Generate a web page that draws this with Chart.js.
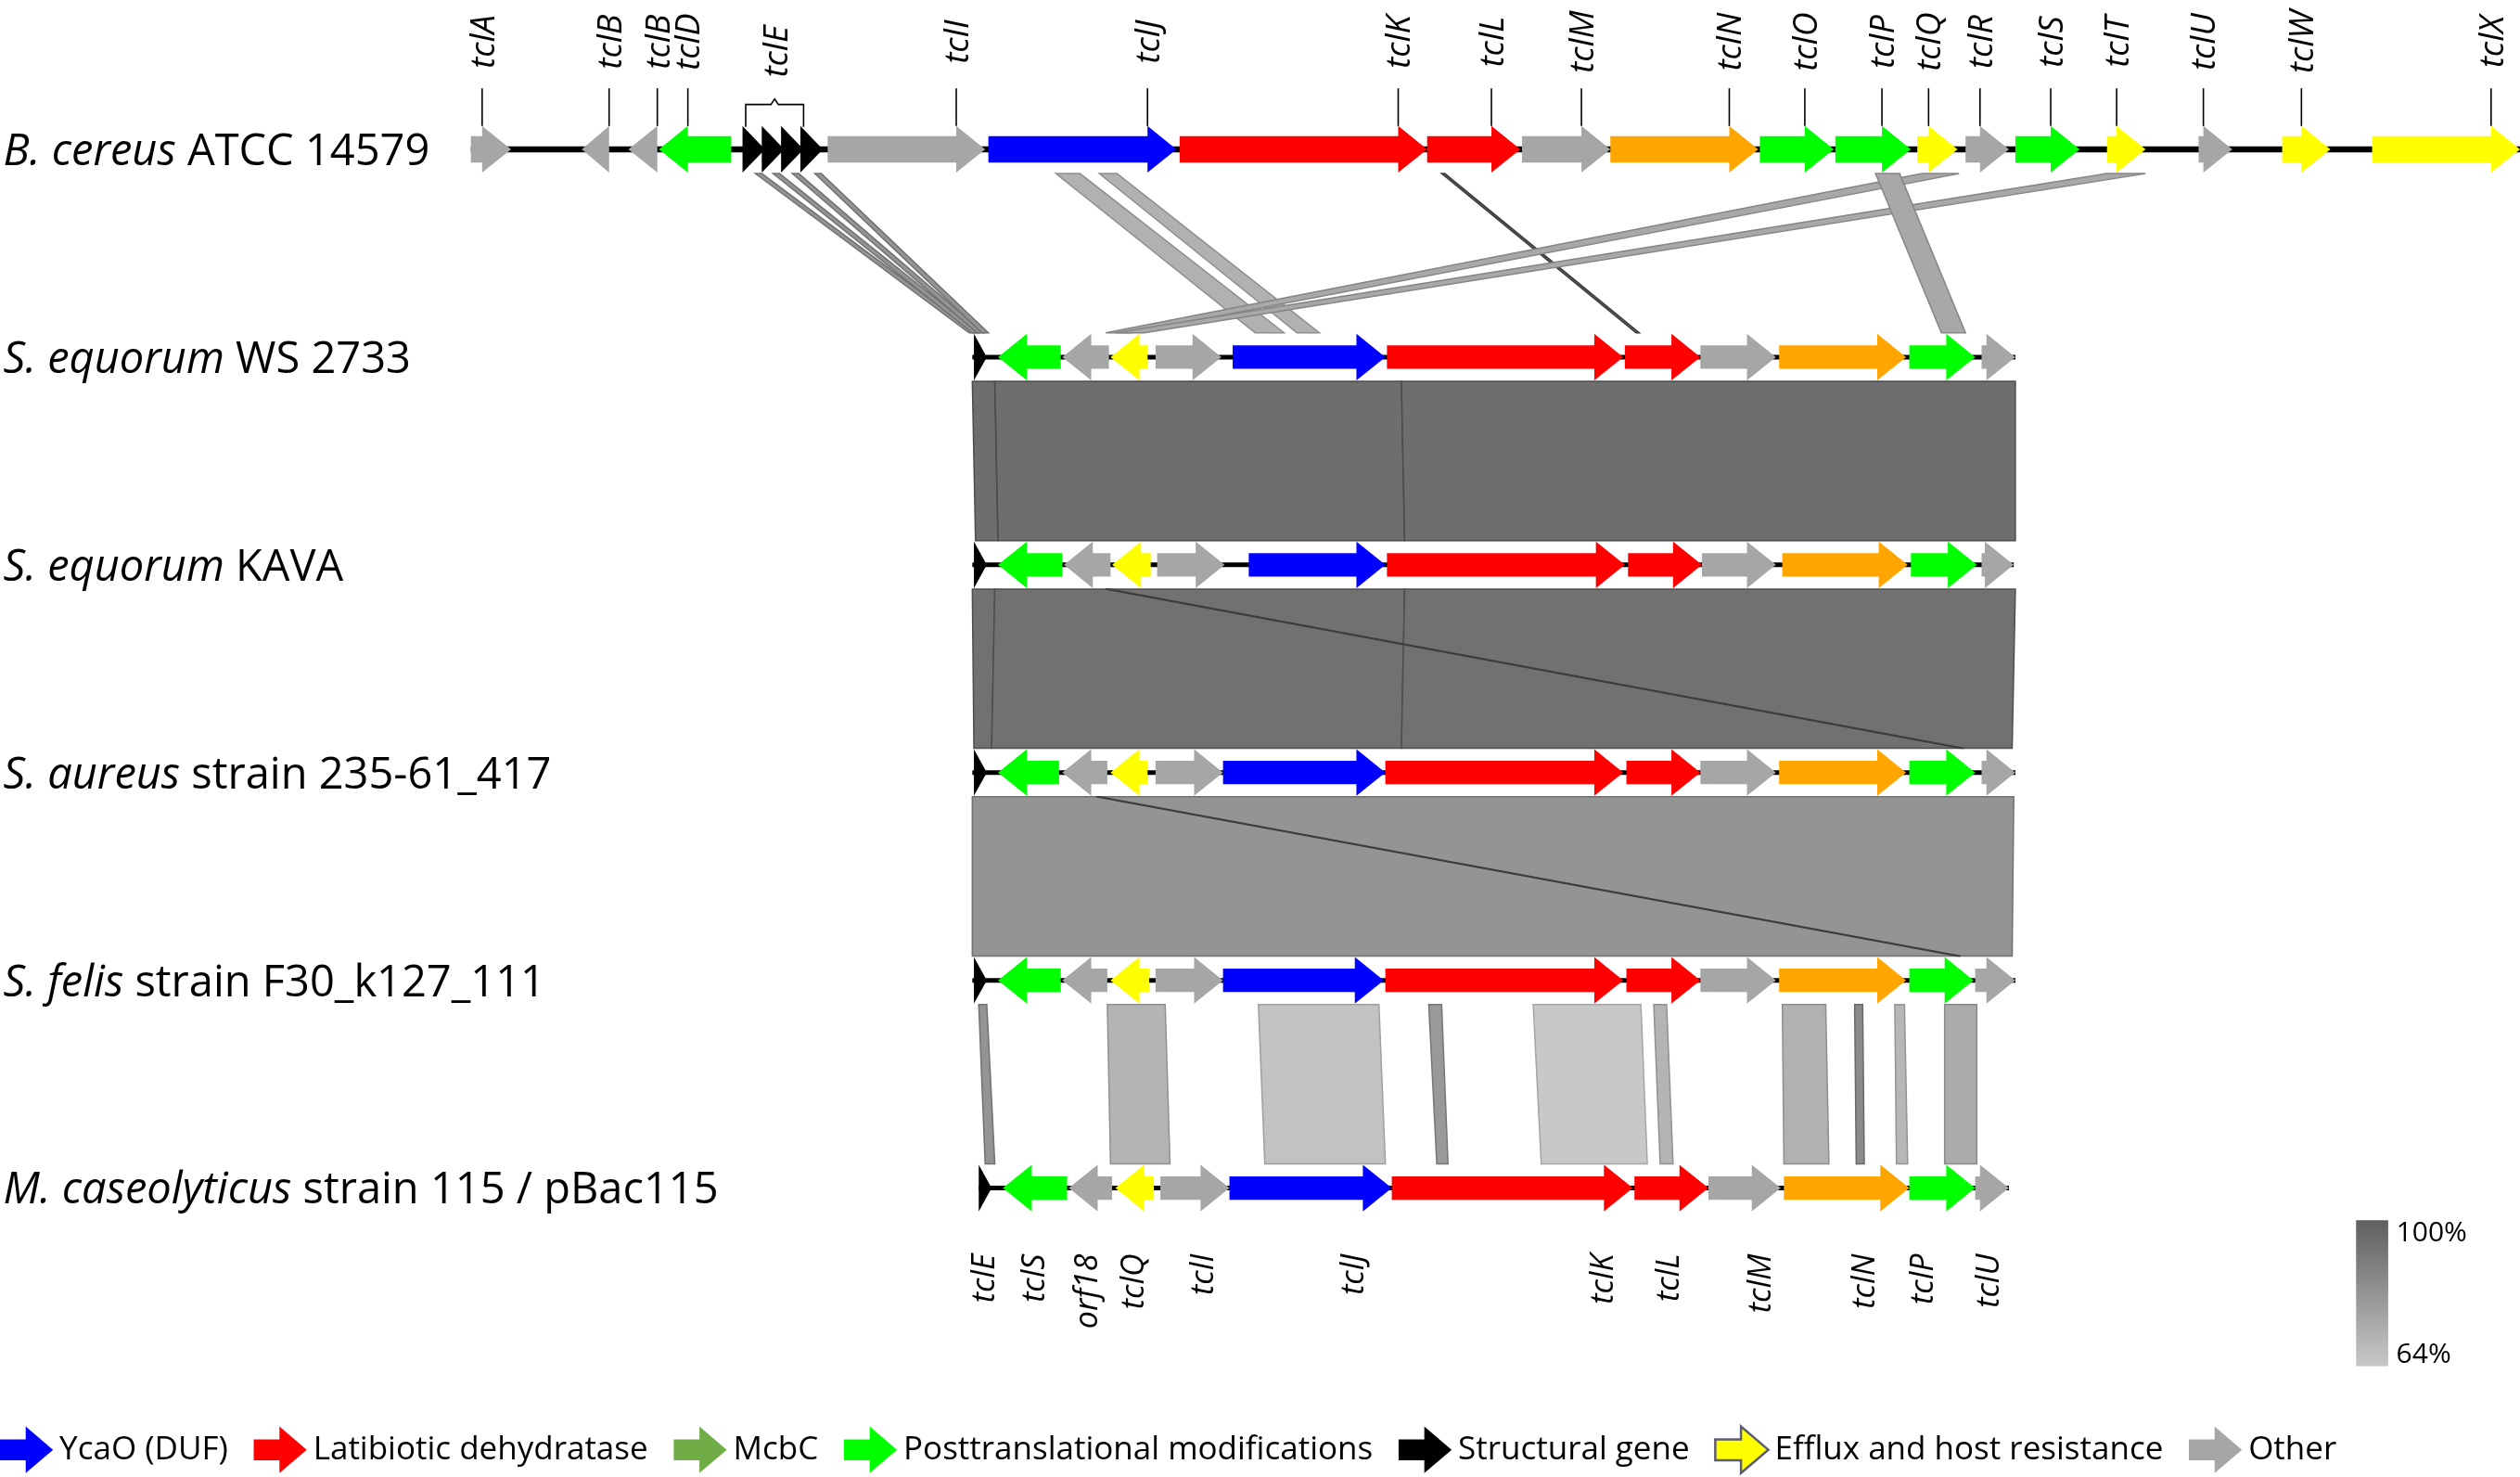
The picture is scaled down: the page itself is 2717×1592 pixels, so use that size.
<!DOCTYPE html>
<html>
<head>
<meta charset="utf-8">
<title>tcl cluster comparison</title>
<script src="https://cdn.jsdelivr.net/npm/chart.js@4.4.1/dist/chart.umd.min.js"></script>
<style>
  html, body { margin: 0; padding: 0; background: #fff; overflow: hidden; }
  #wrap { position: relative; width: 2717px; height: 1592px; }
</style>
</head>
<body>
<div id="wrap"><canvas id="chart"></canvas></div>
<script>
// Horizontal positions share one coordinate (0-1568) across all tracks,
// rows are track indices (0 = top).

// Track names: [italic part, plain part]
const species = [
  ['B. cereus', 'ATCC 14579'],
  ['S. equorum', 'WS 2733'],
  ['S. equorum', 'KAVA'],
  ['S. aureus', 'strain 235-61_417'],
  ['S. felis', 'strain F30_k127_111'],
  ['M. caseolyticus', 'strain 115 / pBac115']
];

// backbone start/end of each track
const trackSpans = [[293, 1568], [605, 1254], [605, 1253], [605, 1254], [605, 1254], [609, 1250]];

// genes: [name, start, end, strand, category]
const cereusGenes = [
  ['tclA', 293, 318, 1, 'other'],
  ['tclB', 362, 379, -1, 'other'],
  ['tclB', 391, 409, -1, 'other'],
  ['tclD', 410, 455, -1, 'ptm'],
  ['tclE', 462, 476, 1, 'struct'],
  ['tclE', 474, 488, 1, 'struct'],
  ['tclE', 486, 500, 1, 'struct'],
  ['tclE', 498, 512, 1, 'struct'],
  ['tclI', 515, 613, 1, 'other'],
  ['tclJ', 615, 732, 1, 'ycao'],
  ['tclK', 734, 888, 1, 'dehyd'],
  ['tclL', 888, 946, 1, 'dehyd'],
  ['tclM', 947, 1002, 1, 'other'],
  ['tclN', 1002, 1094, 1, 'tclN'],
  ['tclO', 1095, 1141, 1, 'ptm'],
  ['tclP', 1142, 1189, 1, 'ptm'],
  ['tclQ', 1193, 1218, 1, 'efflux'],
  ['tclR', 1223, 1250, 1, 'other'],
  ['tclS', 1254, 1294, 1, 'ptm'],
  ['tclT', 1311, 1335, 1, 'efflux'],
  ['tclU', 1368, 1389, 1, 'other'],
  ['tclW', 1420, 1450, 1, 'efflux'],
  ['tclX', 1476, 1568, 1, 'efflux']
];

const ws2733Genes = [
  ['tclE', 606, 614, 1, 'struct'], ['tclS', 621, 660, -1, 'ptm'], ['orf18', 661, 690, -1, 'other'],
  ['tclQ', 691, 714, -1, 'efflux'], ['tclI', 719, 760, 1, 'other'], ['tclJ', 767, 862, 1, 'ycao'],
  ['tclK', 863, 1010, 1, 'dehyd'], ['tclL', 1011, 1058, 1, 'dehyd'], ['tclM', 1058, 1105, 1, 'other'],
  ['tclN', 1107, 1186, 1, 'tclN'], ['tclP', 1188, 1229, 1, 'ptm'], ['tclU', 1233, 1254, 1, 'other']
];

const kavaGenes = [
  ['tclE', 606, 614, 1, 'struct'], ['tclS', 621, 661, -1, 'ptm'], ['orf18', 662, 691, -1, 'other'],
  ['tclQ', 692, 716, -1, 'efflux'], ['tclI', 720, 762, 1, 'other'], ['tclJ', 777, 862, 1, 'ycao'],
  ['tclK', 863, 1011, 1, 'dehyd'], ['tclL', 1013, 1059, 1, 'dehyd'], ['tclM', 1059, 1105, 1, 'other'],
  ['tclN', 1109, 1187, 1, 'tclN'], ['tclP', 1189, 1230, 1, 'ptm'], ['tclU', 1233, 1253, 1, 'other']
];

const aureusGenes = [
  ['tclE', 606, 614, 1, 'struct'], ['tclS', 621, 659, -1, 'ptm'], ['orf18', 661, 689, -1, 'other'],
  ['tclQ', 691, 714, -1, 'efflux'], ['tclI', 719, 761, 1, 'other'], ['tclJ', 761, 862, 1, 'ycao'],
  ['tclK', 862, 1010, 1, 'dehyd'], ['tclL', 1012, 1058, 1, 'dehyd'], ['tclM', 1058, 1105, 1, 'other'],
  ['tclN', 1107, 1186, 1, 'tclN'], ['tclP', 1188, 1229, 1, 'ptm'], ['tclU', 1233, 1254, 1, 'other']
];

const felisGenes = [
  ['tclE', 606, 614, 1, 'struct'], ['tclS', 621, 660, -1, 'ptm'], ['orf18', 661, 689, -1, 'other'],
  ['tclQ', 691, 715, -1, 'efflux'], ['tclI', 719, 761, 1, 'other'], ['tclJ', 761, 861, 1, 'ycao'],
  ['tclK', 862, 1010, 1, 'dehyd'], ['tclL', 1012, 1058, 1, 'dehyd'], ['tclM', 1058, 1105, 1, 'other'],
  ['tclN', 1107, 1186, 1, 'tclN'], ['tclP', 1188, 1228, 1, 'ptm'], ['tclU', 1229, 1254, 1, 'other']
];

const mcasGenes = [
  ['tclE', 609, 617, 1, 'struct'], ['tclS', 624, 664, -1, 'ptm'], ['orf18', 665, 692, -1, 'other'],
  ['tclQ', 694, 718, -1, 'efflux'], ['tclI', 722, 765, 1, 'other'], ['tclJ', 765, 866, 1, 'ycao'],
  ['tclK', 866, 1016, 1, 'dehyd'], ['tclL', 1017, 1063, 1, 'dehyd'], ['tclM', 1063, 1108, 1, 'other'],
  ['tclN', 1110, 1188, 1, 'tclN'], ['tclP', 1188, 1229, 1, 'ptm'], ['tclU', 1229, 1250, 1, 'other']
];

const trackGenes = [cereusGenes, ws2733Genes, kavaGenes, aureusGenes, felisGenes, mcasGenes];

// gene labels under the last track: [name, position]
const mcasLabels = [
  ['tclE', 613], ['tclS', 644], ['orf18', 677], ['tclQ', 706], ['tclI', 749], ['tclJ', 843],
  ['tclK', 998], ['tclL', 1039], ['tclM', 1096], ['tclN', 1161], ['tclP', 1197], ['tclU', 1238]
];

// blastn hits between neighbour tracks: [topStart, topEnd, bottomStart, bottomEnd, identity %]
const cereusVsWs2733 = [
  [470, 474, 603, 607, 82], [481, 485, 605, 609, 82], [493, 497, 608, 612, 82], [507, 511, 611, 615, 82],
  [657, 672, 781, 799, 72], [684, 695, 807, 821, 72],
  [897, 899, 1018, 1020, 100],
  [1196, 1219, 688, 704, 75], [1311, 1335, 694, 712, 75],
  [1167, 1182, 1208, 1223, 75]
];
const ws2733VsKava = [
  [605, 619, 607, 621, 95], [619, 872, 621, 874, 95], [872, 1254, 874, 1254, 95]
];
const kavaVsAureus = [
  [605, 619, 606, 617, 94], [619, 874, 617, 872, 94], [874, 1254, 872, 1252, 94],
  [688, 690, 1220, 1222, 100]
];
const aureusVsFelis = [
  [605, 1253, 605, 1252, 82],
  [682, 684, 1218, 1220, 100]
];
const felisVsMcas = [
  [609, 614, 613, 619, 82], [689, 725, 691, 728, 71], [783, 858, 787, 862, 66],
  [889, 897, 894, 901, 80], [954, 1021, 959, 1025, 64], [1029, 1037, 1033, 1041, 71],
  [1109, 1136, 1110, 1138, 72], [1154, 1159, 1155, 1160, 85], [1179, 1185, 1180, 1187, 70],
  [1210, 1230, 1210, 1230, 74]
];
const comparisons = [cereusVsWs2733, ws2733VsKava, kavaVsAureus, aureusVsFelis, felisVsMcas];

const identityRange = [64, 100];

const legendItems = [
  ['YcaO (DUF)', 'ycao'],
  ['Latibiotic dehydratase', 'dehyd'],
  ['McbC', 'mcbc'],
  ['Posttranslational modifications', 'ptm'],
  ['Structural gene', 'struct'],
  ['Efflux and host resistance', 'efflux'],
  ['Other', 'other']
];

const typeColors = {
  ycao: '#0000ff', dehyd: '#ff0000', mcbc: '#70ad47', ptm: '#00ff00',
  struct: '#000000', efflux: '#ffff00', other: '#a6a6a6', tclN: '#ffa500'
};

// layout (row units on the y scale)
const ROW_TOP_LABEL = -0.518;
const ROW_TICK_TOP = -0.294;
const ROW_BRACKET = [-0.243, -0.216, -0.108];
const ROW_BOTTOM_LABEL = 5.317;   // top end of the rotated labels
const ROW_COLORBAR = [5.155, 5.858];
const ROW_LEGEND = 6.26;

const greyFor = (id) => {
  const t = Math.max(0, Math.min(1, (id - identityRange[0]) / (identityRange[1] - identityRange[0])));
  return Math.round(200 - t * 105);
};
const rgb = (v) => `rgb(${v},${v},${v})`;

function drawArrow(ctx, x1, x2, y, strand, color, head, headH, bodyH) {
  const h = Math.min(head, x2 - x1);
  ctx.beginPath();
  if (strand > 0) {
    const b = x2 - h;
    ctx.moveTo(x1, y - bodyH);
    ctx.lineTo(b, y - bodyH);
    ctx.lineTo(b, y - headH);
    ctx.lineTo(x2, y);
    ctx.lineTo(b, y + headH);
    ctx.lineTo(b, y + bodyH);
    ctx.lineTo(x1, y + bodyH);
  } else {
    const b = x1 + h;
    ctx.moveTo(x2, y - bodyH);
    ctx.lineTo(b, y - bodyH);
    ctx.lineTo(b, y - headH);
    ctx.lineTo(x1, y);
    ctx.lineTo(b, y + headH);
    ctx.lineTo(b, y + bodyH);
    ctx.lineTo(x2, y + bodyH);
  }
  ctx.closePath();
  ctx.fillStyle = color;
  ctx.fill();
}

// text turned to read bottom-to-top
function rotatedText(ctx, text, x, y, align) {
  ctx.save();
  ctx.translate(x, y);
  ctx.rotate(-Math.PI / 2);
  ctx.textAlign = align || 'center';
  ctx.textBaseline = 'middle';
  ctx.fillText(text, 0, 0);
  ctx.restore();
}

const geneMapPlugin = {
  id: 'geneMap',
  beforeDatasetsDraw(chart) {
    const ctx = chart.ctx;
    const xs = chart.scales.x, ys = chart.scales.y;
    const k = xs.getPixelForValue(1) - xs.getPixelForValue(0);
    const headH = 14.5 * k;
    ctx.save();
    comparisons.forEach((hits, i) => {
      const yTop = ys.getPixelForValue(i) + headH + 1;
      const yBot = ys.getPixelForValue(i + 1) - headH - 1;
      hits.forEach(([a, b, c, d, id]) => {
        const g = greyFor(id);
        ctx.beginPath();
        ctx.moveTo(xs.getPixelForValue(a), yTop);
        ctx.lineTo(xs.getPixelForValue(b), yTop);
        ctx.lineTo(xs.getPixelForValue(d), yBot);
        ctx.lineTo(xs.getPixelForValue(c), yBot);
        ctx.closePath();
        ctx.fillStyle = rgb(g);
        ctx.fill();
        ctx.strokeStyle = rgb(Math.max(0, g - 35));
        ctx.lineWidth = 1.5;
        ctx.stroke();
      });
    });
    ctx.restore();
  },
  afterDatasetsDraw(chart) {
    const ctx = chart.ctx;
    const xs = chart.scales.x, ys = chart.scales.y;
    const k = xs.getPixelForValue(1) - xs.getPixelForValue(0);
    const head = 18 * k, headH = 14.5 * k;
    ctx.save();

    // gene arrows
    trackGenes.forEach((genes, row) => {
      const y = ys.getPixelForValue(row);
      const bodyH = (row === 0 ? 8.2 : 7.3) * k;
      genes.forEach(([name, s, e, strand, type]) => {
        drawArrow(ctx, xs.getPixelForValue(s), xs.getPixelForValue(e), y, strand,
          typeColors[type], head, headH, bodyH);
      });
    });

    // labels above the first track
    ctx.font = `italic ${Math.round(21 * k)}px "Open Sans"`;
    ctx.fillStyle = '#000';
    ctx.strokeStyle = '#000';
    ctx.lineWidth = 1.6;
    const y0 = ys.getPixelForValue(0);
    const yLabel = ys.getPixelForValue(ROW_TOP_LABEL);
    const yTick = ys.getPixelForValue(ROW_TICK_TOP);
    let g = 0;
    while (g < cereusGenes.length) {
      const [name, s, e, strand, type] = cereusGenes[g];
      if (type === 'struct') {
        // group of structural genes under one bracket
        let last = g;
        while (last + 1 < cereusGenes.length && cereusGenes[last + 1][0] === name) last++;
        const bx1 = xs.getPixelForValue(s + 2);
        const bx2 = xs.getPixelForValue(cereusGenes[last][1] + 2);
        const bc = (bx1 + bx2) / 2;
        const [yBump, yH, yB] = ROW_BRACKET.map(v => ys.getPixelForValue(v));
        ctx.beginPath();
        ctx.moveTo(bx1, yB);
        ctx.lineTo(bx1, yH);
        ctx.lineTo(bc - 4, yH);
        ctx.lineTo(bc, yBump);
        ctx.lineTo(bc + 4, yH);
        ctx.lineTo(bx2, yH);
        ctx.lineTo(bx2, yB);
        ctx.stroke();
        rotatedText(ctx, name, bc + 2 * k, yLabel + 6 * k);
        g = last + 1;
        continue;
      }
      const len = Math.min(18, e - s);
      const tick = strand > 0 ? e - len : s + len;
      const tx = xs.getPixelForValue(tick);
      ctx.beginPath();
      ctx.moveTo(tx, yTick);
      ctx.lineTo(tx, y0 - headH);
      ctx.stroke();
      rotatedText(ctx, name, tx + 1.5 * k, yLabel);
      g++;
    }

    // labels below the last track (top-aligned)
    ctx.font = `italic ${Math.round(19.6 * k)}px "Open Sans"`;
    const yBottom = ys.getPixelForValue(ROW_BOTTOM_LABEL);
    mcasLabels.forEach(([name, pos]) => rotatedText(ctx, name, xs.getPixelForValue(pos), yBottom, 'right'));

    // species names
    const spFont = Math.round(27.4 * k);
    ctx.textAlign = 'left';
    ctx.textBaseline = 'alphabetic';
    species.forEach(([it, plain], row) => {
      const y = ys.getPixelForValue(row) + spFont * 0.36;
      let x = xs.getPixelForValue(2);
      ctx.font = `italic ${spFont}px "Open Sans"`;
      ctx.fillText(it, x, y);
      x += ctx.measureText(it + ' ').width;
      ctx.font = `${spFont}px "Open Sans"`;
      ctx.fillText(plain, x, y);
    });

    // legend
    const legFont = Math.round(20.2 * k);
    ctx.font = `${legFont}px "Open Sans"`;
    const yLeg = ys.getPixelForValue(ROW_LEGEND);
    let lx = xs.getPixelForValue(0);
    legendItems.forEach(([text, type]) => {
      const ax2 = lx + 33 * k;
      drawArrow(ctx, lx, ax2, yLeg, 1, typeColors[type], 17 * k, 14.5 * k, 6.5 * k);
      if (type === 'efflux') {
        ctx.save();
        ctx.strokeStyle = '#5b5b78';
        ctx.lineWidth = 2.5;
        ctx.stroke();
        ctx.restore();
      }
      ctx.fillStyle = '#000';
      ctx.textBaseline = 'middle';
      ctx.fillText(text, ax2 + 4 * k, yLeg);
      lx = ax2 + 4 * k + ctx.measureText(text).width + 16 * k;
    });

    // identity colour bar
    const cbx1 = xs.getPixelForValue(1466), cbx2 = xs.getPixelForValue(1486);
    const cby1 = ys.getPixelForValue(ROW_COLORBAR[0]), cby2 = ys.getPixelForValue(ROW_COLORBAR[1]);
    const grad = ctx.createLinearGradient(0, cby1, 0, cby2);
    grad.addColorStop(0, rgb(greyFor(identityRange[1])));
    grad.addColorStop(1, rgb(greyFor(identityRange[0])));
    ctx.fillStyle = grad;
    ctx.fillRect(cbx1, cby1, cbx2 - cbx1, cby2 - cby1);
    ctx.fillStyle = '#000';
    ctx.font = `${Math.round(17.3 * k)}px "Open Sans"`;
    ctx.textAlign = 'left';
    ctx.textBaseline = 'middle';
    ctx.fillText(identityRange[1] + '%', cbx2 + 5 * k, cby1 + 8 * k);
    ctx.fillText(identityRange[0] + '%', cbx2 + 5 * k, cby2 - 7 * k);

    ctx.restore();
  }
};

new Chart(document.getElementById('chart'), {
  type: 'scatter',
  data: {
    datasets: trackSpans.map((span, i) => ({
      data: [{ x: span[0], y: i }, { x: span[1], y: i }],
      showLine: true,
      borderColor: '#000',
      borderWidth: i === 0 ? 6.5 : 5,
      pointRadius: 0
    }))
  },
  options: {
    responsive: true,
    maintainAspectRatio: false,
    animation: false,
    devicePixelRatio: 1,
    events: [],
    layout: { padding: 0 },
    plugins: { legend: { display: false }, tooltip: { enabled: false } },
    scales: {
      x: { type: 'linear', min: 0, max: 1568, display: false },
      y: { type: 'linear', min: -0.719, max: 6.391, reverse: true, display: false }
    }
  },
  plugins: [geneMapPlugin]
});
</script>
</body>
</html>
